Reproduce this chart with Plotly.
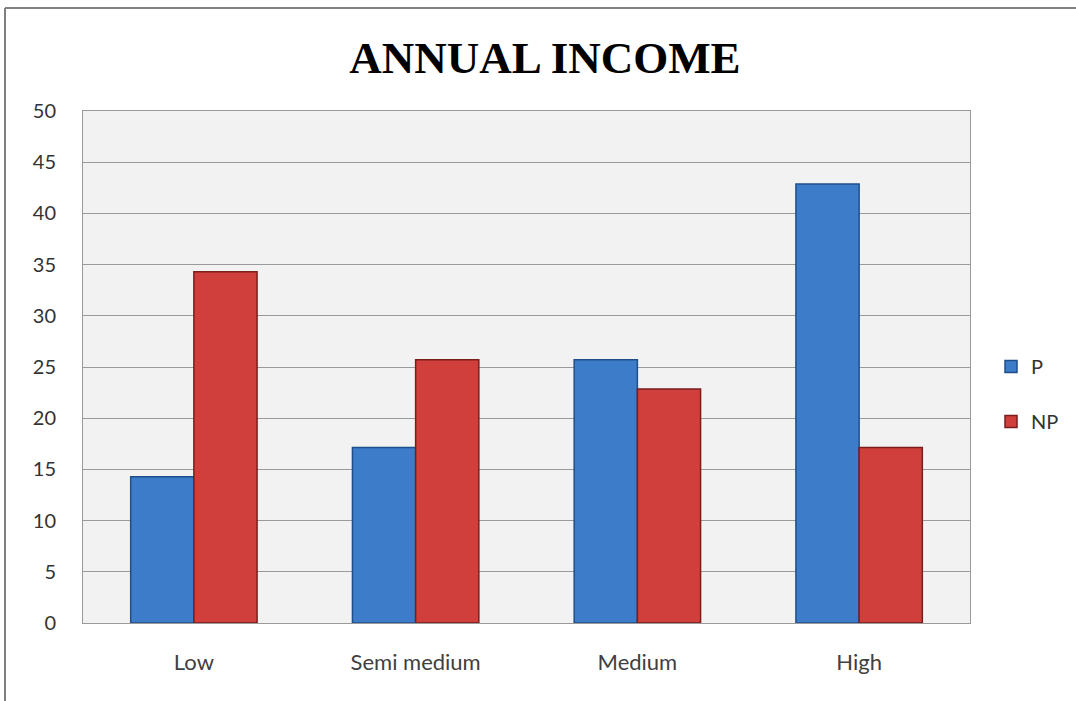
import plotly.graph_objects as go

categories = ["Low", "Semi medium", "Medium", "High"]
p_values = [14.29, 17.14, 25.71, 42.86]
np_values = [34.29, 25.71, 22.86, 17.14]
y_ticks = [0, 5, 10, 15, 20, 25, 30, 35, 40, 45, 50]

fig = go.Figure()
fig.add_trace(go.Bar(
    x=categories, y=p_values, name="P", legendgroup="P",
    marker=dict(color="#3d7cc9", line=dict(color="#1f4f8a", width=1.5)),
))
fig.add_trace(go.Bar(
    x=categories, y=np_values, name="NP", legendgroup="NP",
    marker=dict(color="#d03f3b", line=dict(color="#7a1e1c", width=1.5)),
))

fig.update_layout(
    width=1076, height=701,
    margin=dict(l=83, r=106, t=111, b=78, autoexpand=False),
    paper_bgcolor="white",
    plot_bgcolor="#f2f2f2",
    barmode="group",
    bargap=0.43,
    bargroupgap=0,
    title=dict(
        text="<b>ANNUAL INCOME</b>",
        x=545 / 1076, xref="container", xanchor="center",
        y=1 - 57 / 701, yref="container", yanchor="middle",
        font=dict(family="Liberation Serif", size=45, color="black"),
    ),
    font=dict(family="Lato", size=20, color="#333333"),
    showlegend=True,
    legend=dict(
        xref="container", yref="container",
        x=991 / 1076, y=1 - 394 / 701, xanchor="left", yanchor="middle",
        tracegroupgap=26,
        traceorder="grouped",
        font=dict(family="Lato", size=20, color="#333333"),
        itemwidth=30,
        bgcolor="rgba(0,0,0,0)",
    ),
    xaxis=dict(
        showgrid=False,
        showline=True, linecolor="#9a9a9a", linewidth=1, mirror=True,
        ticks="", tickfont=dict(family="Lato", size=22, color="#404040"),
        ticklabelstandoff=20,
    ),
    yaxis=dict(
        range=[0, 50],
        tickvals=y_ticks,
        showgrid=True, gridcolor="#9a9a9a", gridwidth=1,
        showline=True, linecolor="#9a9a9a", linewidth=1, mirror=True,
        zeroline=False,
        ticks="", tickfont=dict(family="Lato", size=20, color="#333333"),
        ticklabelstandoff=22,
    ),
)

# outer chart border (left and top edges visible)
fig.add_shape(type="line", xref="paper", yref="paper",
              x0=-78 / 887, x1=-78 / 887, y0=-0.2, y1=1.0 + 103 / 512,
              line=dict(color="#808080", width=2))
fig.add_shape(type="line", xref="paper", yref="paper",
              x0=-78 / 887, x1=1.2, y0=1.0 + 103 / 512, y1=1.0 + 103 / 512,
              line=dict(color="#808080", width=2))

fig.write_html("out.html")
